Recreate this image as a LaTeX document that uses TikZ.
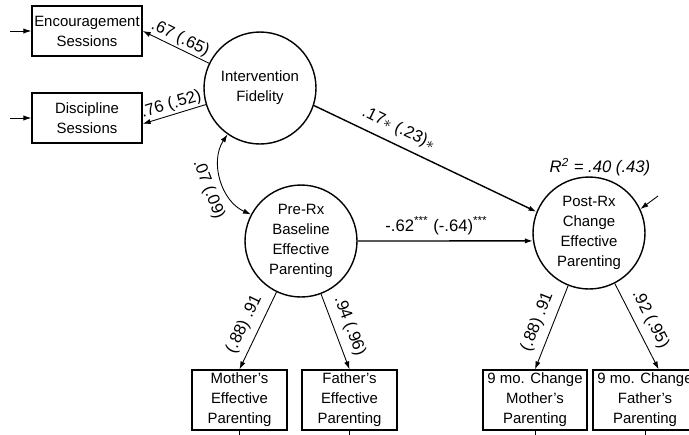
\documentclass[tikz,border=0pt]{standalone}
\usepackage{fontspec}
\setmainfont{Liberation Sans}
\usetikzlibrary{arrows.meta}
\begin{document}
\begin{tikzpicture}[x=0.02cm,y=-0.02cm,>={Latex[length=4.5pt,width=3pt]}]
            \tikzstyle{facteur}=[circle,draw,line width=0.8pt,minimum size=2.24cm,inner sep=0pt,align=center,font=\fontsize{8.5}{11.4}\selectfont]
            \tikzstyle{indic}=[rectangle,draw,line width=0.8pt,minimum width=2.2cm,minimum height=1cm,inner sep=1pt,align=center,font=\fontsize{8.5}{11.4}\selectfont]
            \tikzstyle{indicb}=[indic,minimum width=1.9cm,minimum height=1.2cm]
            \tikzstyle{indicc}=[indic,minimum width=2.08cm,minimum height=1.2cm]
            \tikzstyle{coef}=[font=\fontsize{9.5}{11}\selectfont,inner sep=1pt,sloped]
            \tikzstyle{fleche}=[->,line width=0.5pt]
            \useasboundingbox (0,0) rectangle (689,434);
            \clip (0,0) rectangle (689,434);
            \node[indic] (enc) at (87,31) {Encouragement\\Sessions};
            \node[indic] (dis) at (87,118) {Discipline\\Sessions};
            \node[facteur] (int) at (260,88) {Intervention\\Fidelity};
            \node[facteur] (pre) at (301,241) {Pre-Rx\\Baseline\\Effective\\Parenting};
            \node[facteur] (post) at (589,233) {Post-Rx\\Change\\Effective\\Parenting};
            \node[font=\fontsize{9.5}{11}\selectfont] (r2) at (600,167) {\textit{R\textsuperscript{2} = .40 (.43)}};
            \node[indicb] (mom) at (239.5,400) {Mother's\\Effective\\Parenting};
            \node[indicb] (dad) at (349.5,400) {Father's\\Effective\\Parenting};
            \node[indicc] (cmom) at (535,400) {9 mo. Change\\Mother's\\Parenting};
            \node[indicc] (cdad) at (645,400) {9 mo. Change\\Father's\\Parenting};
            \coordinate (e1) at (10,31);
            \coordinate (e2) at (10,118);
            \coordinate (e3) at (658,196);
            \coordinate (e4) at (239.5,445);
            \coordinate (e5) at (349.5,445);
            \coordinate (e6) at (535,445);
            \coordinate (e7) at (645,445);
            \draw[fleche] (e1) -- (enc);
            \draw[fleche] (e2) -- (dis);
            \draw[fleche] (e3) -- (post.25);
            \draw[line width=0.5pt] (mom) -- (e4);
            \draw[line width=0.5pt] (dad) -- (e5);
            \draw[line width=0.5pt] (cmom) -- (e6);
            \draw[line width=0.5pt] (cdad) -- (e7);
            \draw[fleche] (int) -- (enc.east) node[coef,midway,above] {.67 (.65)};
            \draw[fleche] (int) -- (dis.-6) node[coef,midway,above] {.76 (.52)};
            \draw[<->,line width=0.5pt] (int.235) to[bend right=50] node[coef,pos=0.55,below=3pt] {.07 (.09)} (pre.152);
            \draw[->,line width=0.8pt] (int.-18) -- (post.158) node[coef,pos=0.35,above=3pt] {.17$\ast$ (.23)$\ast$};
            \draw[->,line width=0.8pt] (pre.east) -- (post.188) node[coef,pos=0.45,above=2pt] {-.62\textsuperscript{***} (-.64)\textsuperscript{***}};
            \draw[fleche] (pre) -- (mom.north) node[coef,midway,above=3pt] {(.88) .91};
            \draw[fleche] (pre) -- (dad.north) node[coef,midway,above=3pt] {.94 (.96)};
            \draw[fleche] (post) -- (cmom.north) node[coef,midway,above=3pt] {(.88) .91};
            \draw[fleche] (post) -- (cdad.66) node[coef,midway,above=3pt] {.92 (.95)};
        \end{tikzpicture}
\end{document}
